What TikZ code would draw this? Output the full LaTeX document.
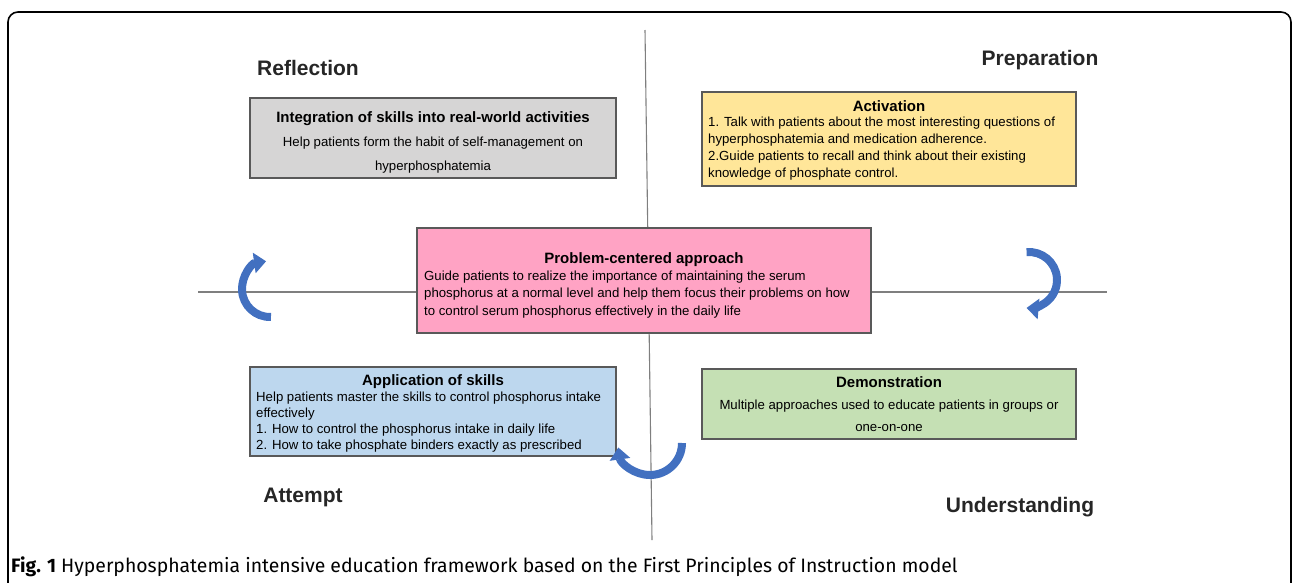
\documentclass[tikz,border=0pt]{standalone}
\usepackage{fontspec}
\setmainfont{Liberation Sans}
\newfontfamily\capfont{Fira Sans}
\usetikzlibrary{arrows.meta}
\definecolor{boxgray}{HTML}{D6D5D5}
\definecolor{boxyellow}{HTML}{FFE699}
\definecolor{boxpink}{HTML}{FFA3C4}
\definecolor{boxblue}{HTML}{BDD7EE}
\definecolor{boxgreen}{HTML}{C5E0B4}
\definecolor{boxline}{HTML}{595959}
\definecolor{axisgray}{HTML}{7F7F7F}
\definecolor{arrowblue}{HTML}{4270C0}
\begin{document}
\begin{tikzpicture}[x=1pt,y=-1pt,
  box/.style={draw=boxline, line width=1.1pt, inner sep=0pt},
  ttl/.style={inner sep=0pt, font=\bfseries\fontsize{15}{17}\selectfont},
  bodyl/.style={inner sep=0pt, align=left, anchor=north west},
  bodyc/.style={inner sep=0pt, align=center, anchor=north},
  phase/.style={inner sep=0pt, font=\bfseries\fontsize{21}{24}\selectfont, text=black!85},
  axis/.style={draw=axisgray, line width=1.1pt},
  curv/.style={draw=arrowblue, line width=8pt, line cap=butt, -{Triangle[length=12pt,width=20pt]}}]
\useasboundingbox (0,0) rectangle (1292,582);
% frame
\draw[line width=1.6pt, rounded corners=10pt] (8,600) -- (8,12) -- (1291,12) -- (1291,600);
% axes
\coordinate (vt) at (645,30);
\coordinate (vb) at (652,540);
\coordinate (hl) at (198,292);
\coordinate (hr) at (1107,292);
\draw[axis] (vt) -- (vb);
\draw[axis] (hl) -- (hr);
% phase labels
\node[phase] (refl) at (308,68) {Reflection};
\node[phase] (prep) at (1040,60) {Preparation};
\node[phase] (att) at (303,497) {Attempt};
\node[phase] (und) at (1020,507) {Understanding};
% boxes
\node[box, fill=boxgray, minimum width=366pt, minimum height=80pt] (gbox) at (433,138) {};
\node[box, fill=boxyellow, minimum width=374pt, minimum height=94pt] (ybox) at (889,139) {};
\node[box, fill=boxpink, minimum width=454pt, minimum height=105pt] (pbox) at (644,280.5) {};
\node[box, fill=boxblue, minimum width=366pt, minimum height=89pt] (bbox) at (433,411.5) {};
\node[box, fill=boxgreen, minimum width=374pt, minimum height=70pt] (grbox) at (889,404) {};
% gray
\node[ttl] (gt) at (433,119) {Integration of skills into real-world activities};
\node[bodyc, font=\fontsize{13.2}{24}\selectfont] (gb) at (433,137) {Help patients form the habit of self-management on\\hyperphosphatemia};
% yellow
\node[ttl] (yt) at (889,106) {Activation};
\node[bodyl, font=\fontsize{13.2}{17}\selectfont] (yb) at (708,117) {1. Talk with patients about the most interesting questions of\\hyperphosphatemia and medication adherence.\\2.Guide patients to recall and think about their existing\\knowledge of phosphate control.};
% pink
\node[ttl] (pt) at (644,260) {Problem-centered approach};
\node[bodyl, font=\fontsize{13.2}{17.5}\selectfont] (pb) at (424,270.5) {Guide patients to realize the importance of maintaining the serum\\phosphorus at a normal level and help them focus their problems on how\\to control serum phosphorus effectively in the daily life};
% blue
\node[ttl] (bt) at (433,382) {Application of skills};
\node[bodyl, font=\fontsize{13.2}{16}\selectfont] (bb) at (256,391.5) {Help patients master the skills to control phosphorus intake\\effectively\\1. How to control the phosphorus intake in daily life\\2. How to take phosphate binders exactly as prescribed};
% green
\node[ttl] (grt) at (889,382) {Demonstration};
\node[bodyc, font=\fontsize{13.2}{22}\selectfont] (grb) at (889,400) {Multiple approaches used to educate patients in groups or\\one-on-one};
% curved arrows
\coordinate (lc) at (270,289);
\coordinate (rc) at (1029,280);
\coordinate (bc) at (650,443);
\draw[curv] (lc) ++(88:28) arc[start angle=88, end angle=262, radius=28];
\draw[curv] (rc) ++(-95:28) arc[start angle=-95, end angle=95, radius=28];
\draw[curv] (bc) ++(0:32) arc[start angle=0, end angle=172, radius=32];
% caption
\node[inner sep=0pt, anchor=base west, font=\capfont\fontsize{19.4}{22}\selectfont] (cap) at (11,572) {\textbf{Fig. 1} Hyperphosphatemia intensive education framework based on the First Principles of Instruction model};
\end{tikzpicture}
\end{document}
